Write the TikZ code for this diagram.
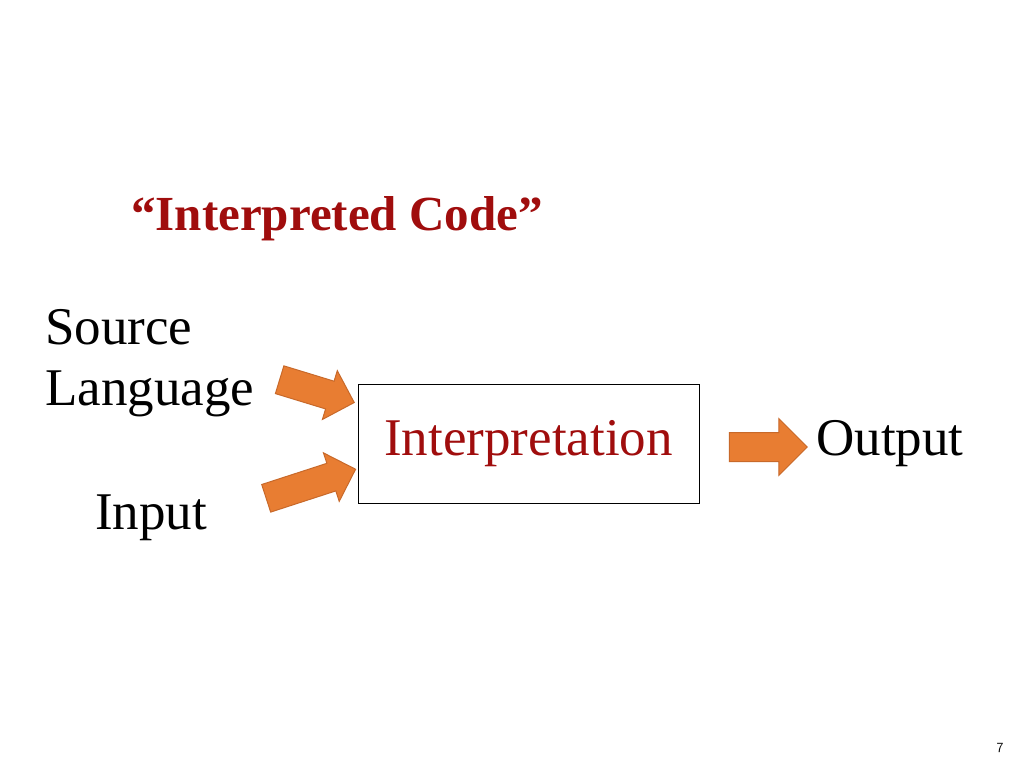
\documentclass[tikz,border=0pt]{standalone}
\usepackage{fontspec}
\setmainfont{Liberation Serif}
\usetikzlibrary{shapes.arrows}
\definecolor{dred}{HTML}{A00D0D}
\definecolor{aor}{HTML}{E87D32}
\definecolor{aorb}{HTML}{C8692A}
\begin{document}
\begin{tikzpicture}[x=1pt,y=-1pt,
  txt/.style={inner sep=0pt},
  fat/.style={single arrow,fill=aor,draw=aorb,line width=1pt,minimum height=#1,inner xsep=0pt,inner ysep=14pt,single arrow head extend=11pt}]
\useasboundingbox[fill=white] (0,0) rectangle (1024,768);
\node[txt,font=\fontsize{49}{56}\selectfont\bfseries,text=dred] (title) at (337,219) {“Interpreted Code”};
\node[txt,align=left,anchor=north west,font=\fontsize{53}{61}\selectfont] (src) at (45,309) {Source\\Language};
\node[txt,font=\fontsize{53}{60}\selectfont] (inp) at (151,518) {Input};
\node[draw,line width=0.8pt,minimum width=341pt,minimum height=119pt,txt,text=dred,font=\fontsize{53}{60}\selectfont] (box) at (528.5,443.5) {Interpretation};
\node[txt,font=\fontsize{53}{60}\selectfont] (out) at (890,444) {Output};
\node[fat=78pt,rotate=-17] (a1) at (310,389) {};
\node[fat=94pt,rotate=18] (a2) at (304,486) {};
\node[fat=78pt,single arrow head extend=14pt] (a3) at (761,447) {};
\node[font=\fontsize{14}{16}\selectfont\sffamily,inner sep=0pt] (pg) at (1000,748) {7};
\end{tikzpicture}
\end{document}
